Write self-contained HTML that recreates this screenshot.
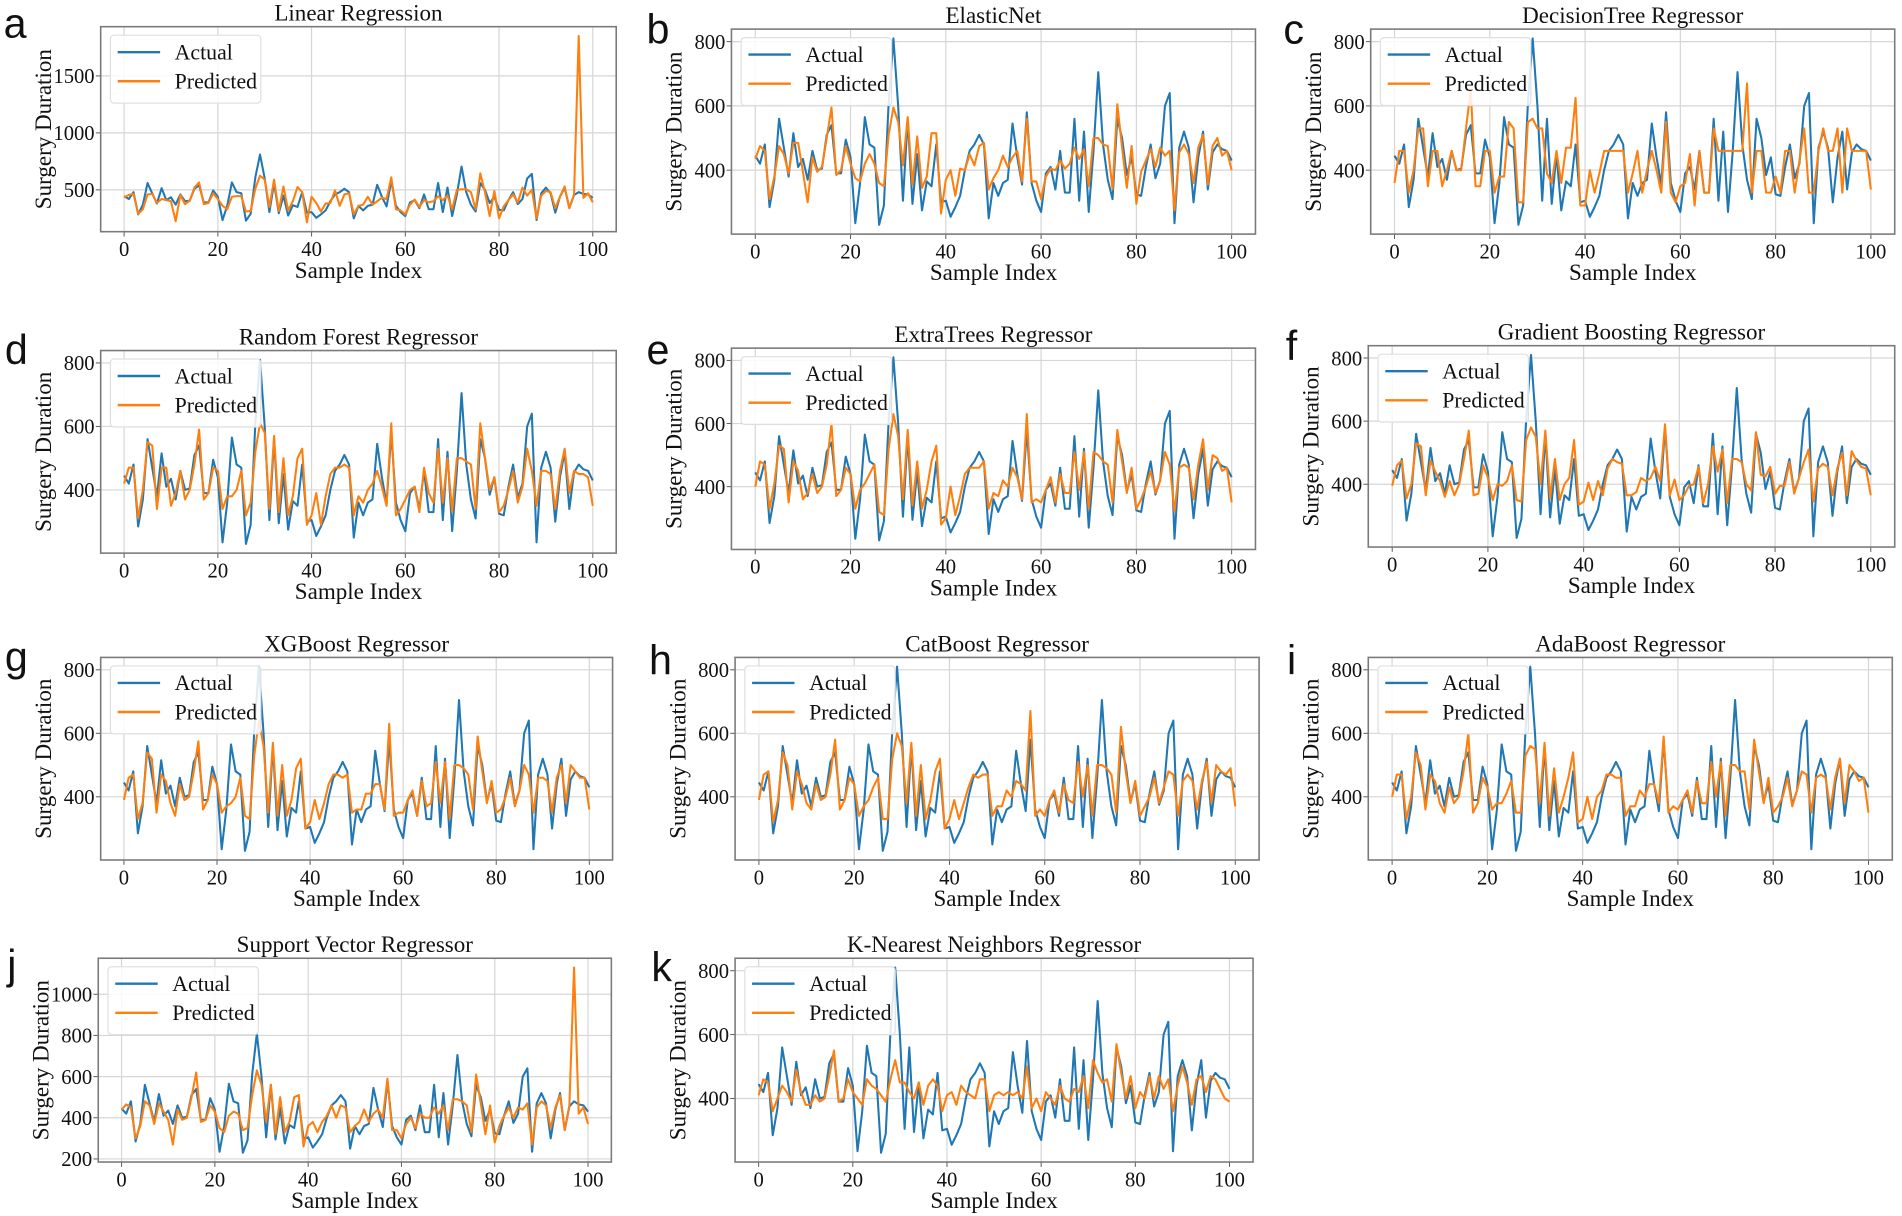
<!DOCTYPE html>
<html><head><meta charset="utf-8"><style>
html,body{margin:0;padding:0;background:#fff;}
svg{display:block;}
text{font-family:"Liberation Serif",serif;fill:#111;}
.letter{font-family:"Liberation Sans",sans-serif;font-size:34px;}
</style></head><body>
<svg id="fig" width="1902" height="1216" viewBox="0 0 1568 1002.5" preserveAspectRatio="none" xmlns="http://www.w3.org/2000/svg"></svg>
<script>
const actual=[445,420,480,285,370,560,470,380,515,410,435,370,460,400,405,510,540,390,390,495,440,235,360,565,480,470,230,290,610,810,600,305,560,295,450,275,365,350,480,300,305,255,285,320,400,460,480,510,480,250,360,320,360,370,545,440,355,580,360,305,270,390,410,340,460,330,330,560,305,520,270,460,705,480,370,310,560,500,385,440,325,320,410,480,375,420,600,640,235,470,520,470,300,440,520,340,455,480,465,460,430];
const predLR=[435,455,465,290,330,460,465,385,420,410,400,225,455,375,405,520,565,375,385,470,420,360,330,440,445,445,310,315,510,625,590,350,590,315,530,320,400,525,480,215,440,385,310,380,385,495,360,460,470,285,360,370,440,370,400,430,420,610,330,320,285,370,415,350,410,390,400,445,410,450,330,500,505,505,480,330,645,480,270,490,250,355,410,460,390,520,450,500,250,450,490,480,340,440,530,340,460,1850,430,470,390];
const predEN=[435,475,460,310,380,475,450,390,485,485,395,300,440,395,410,500,595,385,400,475,420,375,365,420,450,420,360,350,510,595,550,415,565,355,505,345,380,515,515,265,370,400,320,405,400,450,415,475,485,340,375,400,445,410,440,460,365,560,365,365,310,380,405,400,430,405,420,470,435,465,350,500,500,480,475,340,605,470,345,475,295,395,430,465,410,470,445,460,275,455,480,450,360,470,510,355,475,500,445,460,400];
const predDT=[360,460,460,330,400,530,530,350,460,460,350,400,460,400,400,530,650,350,350,460,460,330,380,380,550,530,300,300,550,560,530,530,390,360,460,360,470,470,625,290,290,400,330,390,460,460,460,460,460,330,390,460,330,400,460,400,330,550,330,300,350,360,450,290,460,330,330,530,460,460,460,460,460,460,670,330,460,460,330,330,380,330,460,460,330,430,530,330,330,460,530,460,460,530,330,530,460,460,460,460,340];
const predRF=[420,470,470,310,400,550,540,340,470,470,350,390,460,370,400,480,590,370,390,470,460,340,380,380,400,460,320,360,520,610,580,340,570,330,500,320,380,500,530,290,320,390,290,380,450,470,470,480,470,320,380,360,400,420,460,410,350,610,320,340,370,400,410,330,470,390,360,530,360,500,330,500,500,490,480,340,610,500,400,440,330,350,400,460,360,410,530,460,350,460,460,450,340,460,530,390,460,450,450,440,350];
const predET=[400,480,470,330,410,530,520,350,480,450,360,380,440,380,400,470,600,370,390,460,440,330,390,410,440,470,320,310,520,630,560,360,580,340,480,330,390,480,530,280,300,400,310,370,440,460,460,460,480,330,380,370,420,400,460,430,360,630,350,360,350,390,430,350,440,380,380,510,390,510,330,510,500,480,470,350,580,480,380,460,330,360,400,450,380,420,510,470,320,460,470,460,360,470,550,390,500,490,450,460,350];
const predGB=[395,460,475,355,400,530,520,365,475,440,410,360,410,365,400,480,570,365,370,460,420,350,400,395,410,460,350,345,540,580,550,400,570,355,480,350,400,420,540,335,345,405,350,410,365,450,480,470,465,365,365,375,420,410,420,455,410,590,365,415,350,365,395,400,455,340,400,520,440,510,340,480,480,470,400,380,565,430,425,455,370,395,395,470,370,420,470,510,345,450,465,455,365,450,500,365,505,475,455,450,365];
const predXGB=[390,460,470,330,380,540,520,350,470,450,380,340,440,390,400,480,575,360,390,470,440,350,370,380,400,460,340,330,530,640,560,350,570,340,500,340,390,490,520,300,320,390,330,380,440,470,470,460,470,350,360,360,410,410,440,440,360,630,340,350,350,390,420,340,450,370,380,510,380,510,330,500,500,490,470,360,590,480,380,450,350,360,400,460,370,420,500,470,350,460,460,450,350,460,500,380,500,480,460,460,360];
const predCB=[390,470,480,320,390,540,500,360,480,440,380,360,440,390,400,470,580,360,390,460,440,340,370,390,430,460,330,330,520,600,560,380,570,340,500,330,390,480,520,300,330,390,330,380,430,470,460,470,470,340,370,370,420,400,450,440,420,670,340,360,340,390,420,350,440,390,380,510,400,500,340,500,500,490,470,350,620,480,380,450,340,370,400,460,380,430,480,470,340,450,470,450,360,450,510,380,500,480,470,490,370];
const predAda=[400,470,470,330,400,540,500,360,470,450,380,350,430,380,400,480,600,350,380,460,430,360,380,380,410,450,350,350,530,560,550,380,570,340,490,350,400,460,540,320,330,400,330,400,420,470,470,460,460,340,370,370,420,400,440,440,380,590,350,370,360,390,420,350,450,380,380,510,400,510,340,500,500,480,480,360,580,480,380,460,350,370,400,460,370,420,480,470,350,460,470,460,360,460,520,380,500,480,450,460,350];
const predSVR=[440,465,450,300,360,480,460,370,470,430,390,270,440,390,400,500,620,380,390,460,430,350,330,410,430,420,340,350,510,630,560,380,560,320,500,330,380,500,510,260,360,380,330,380,410,460,400,460,450,330,360,380,440,380,420,440,400,590,340,340,300,370,400,350,420,400,400,450,420,460,340,490,490,480,460,330,610,470,320,460,280,360,410,450,400,450,440,470,270,450,480,460,350,450,510,340,460,1130,420,450,370];
const predKNN=[410,460,450,360,400,440,420,390,490,420,380,380,410,390,400,470,550,390,400,460,420,400,380,460,440,430,410,390,460,520,450,450,420,400,450,380,440,460,440,360,410,420,380,440,420,410,400,460,460,360,410,420,410,420,410,420,400,500,370,400,360,420,400,380,440,400,390,430,420,470,370,520,480,450,460,390,570,480,400,470,370,420,400,470,400,470,430,460,360,440,500,450,380,460,470,420,470,460,430,400,390];
const xTicks=[0,20,40,60,80,100];
const ticks800=[400,600,800];
const ticksLR=[500,1000,1500];
const ticksSVR=[200,400,600,800,1000];

const panels=[
 {id:'a',title:'Linear Regression',pred:predLR,yt:ticksLR,L:83,R:508,T:22,B:191,lx:3,ly:31},
 {id:'b',title:'ElasticNet',pred:predEN,yt:ticks800,L:603,R:1035,T:24,B:193,lx:533,ly:36},
 {id:'c',title:'DecisionTree Regressor',pred:predDT,yt:ticks800,L:1130,R:1562,T:24,B:193,lx:1058,ly:36},
 {id:'d',title:'Random Forest Regressor',pred:predRF,yt:ticks800,L:83,R:508,T:289,B:456,lx:4,ly:300},
 {id:'e',title:'ExtraTrees Regressor',pred:predET,yt:ticks800,L:603,R:1035,T:287,B:453,lx:533,ly:300},
 {id:'f',title:'Gradient Boosting Regressor',pred:predGB,yt:ticks800,L:1128,R:1562,T:285,B:451,lx:1060,ly:297},
 {id:'g',title:'XGBoost Regressor',pred:predXGB,yt:ticks800,L:83,R:505,T:542,B:709,lx:4,ly:553},
 {id:'h',title:'CatBoost Regressor',pred:predCB,yt:ticks800,L:606,R:1038,T:542,B:709,lx:535,ly:556},
 {id:'i',title:'AdaBoost Regressor',pred:predAda,yt:ticks800,L:1128,R:1560,T:542,B:709,lx:1061,ly:556},
 {id:'j',title:'Support Vector Regressor',pred:predSVR,yt:ticksSVR,L:81,R:504,T:790,B:958,lx:6,ly:807},
 {id:'k',title:'K-Nearest Neighbors Regressor',pred:predKNN,yt:ticks800,L:606,R:1033,T:790,B:958,lx:537,ly:809}
];
const NS='http://www.w3.org/2000/svg';
const svg=document.getElementById('fig');
function mk(tag,attrs,parent){const e=document.createElementNS(NS,tag);for(const k in attrs)e.setAttribute(k,attrs[k]);(parent||svg).appendChild(e);return e;}
panels.forEach(p=>{
  const g=mk('g',{});
  
  
  const all=actual.concat(p.pred);
  const mn=Math.min(...all),mx=Math.max(...all),m=(mx-mn)*0.05;
  const y0=mn-m,y1=mx+m;
  const xs=v=>p.L+(v+5)/110*(p.R-p.L);
  const ys=v=>p.B-(v-y0)/(y1-y0)*(p.B-p.T);
  xTicks.forEach(t=>{const l=mk('line',{x1:xs(t),x2:xs(t),y1:p.T,y2:p.B,stroke:'#d6d6d6','stroke-width':1},g);
    
    mk('line',{x1:xs(t),x2:xs(t),y1:p.B,y2:p.B+4,stroke:'#555','stroke-width':0.8},g);
    const tx=mk('text',{x:xs(t),y:p.B+20,'text-anchor':'middle','font-size':17},g);tx.textContent=t;
    });
  p.yt.forEach(t=>{const l=mk('line',{x1:p.L,x2:p.R,y1:ys(t),y2:ys(t),stroke:'#d6d6d6','stroke-width':1},g);
    
    mk('line',{x1:p.L-4,x2:p.L,y1:ys(t),y2:ys(t),stroke:'#555','stroke-width':0.8},g);
    const tx=mk('text',{x:p.L-5,y:ys(t)+6,'text-anchor':'end','font-size':17},g);tx.textContent=t;
    });
  const line=(arr,col,name)=>{const d=arr.map((v,i)=>(i?'L':'M')+xs(i).toFixed(2)+' '+ys(v).toFixed(2)).join(' ');
    const pa=mk('path',{d:d,fill:'none',stroke:col,'stroke-width':1.7,'stroke-linejoin':'round'},g);
    };
  line(actual,'#1f77b4','actual-line');
  line(p.pred,'#ff7f0e','predicted-line');
  const fr=mk('rect',{x:p.L,y:p.T,width:p.R-p.L,height:p.B-p.T,fill:'none',stroke:'#7a7a7a','stroke-width':1.3},g);
  
  const lg=mk('g',{},g);
  
  mk('rect',{x:p.L+8,y:p.T+7,width:124,height:56,rx:3,fill:'#fff','fill-opacity':0.85,stroke:'#e0e0e0','stroke-width':1},lg);
  [['Actual','#1f77b4',21],['Predicted','#ff7f0e',45]].forEach(e=>{
    mk('line',{x1:p.L+14,x2:p.L+49,y1:p.T+e[2],y2:p.T+e[2],stroke:e[1],'stroke-width':2},lg);
    const t=mk('text',{x:p.L+61,y:p.T+e[2]+6,'font-size':18},lg);t.textContent=e[0];
    });
  const ti=mk('text',{x:(p.L+p.R)/2,y:p.T-5,'text-anchor':'middle','font-size':19},g);ti.textContent=p.title;
  
  const xl=mk('text',{x:(p.L+p.R)/2,y:p.B+38,'text-anchor':'middle','font-size':19},g);xl.textContent='Sample Index';
  
  const cy=(p.T+p.B)/2,cx=p.L-41;
  const yl=mk('text',{x:cx,y:cy,'text-anchor':'middle','font-size':19,transform:`rotate(-90 ${cx} ${cy})`},g);yl.textContent='Surgery Duration';
  
  const le=mk('text',{x:p.lx,y:p.ly,class:'letter'},g);le.textContent=p.id;
  
});
</script>
</body></html>
